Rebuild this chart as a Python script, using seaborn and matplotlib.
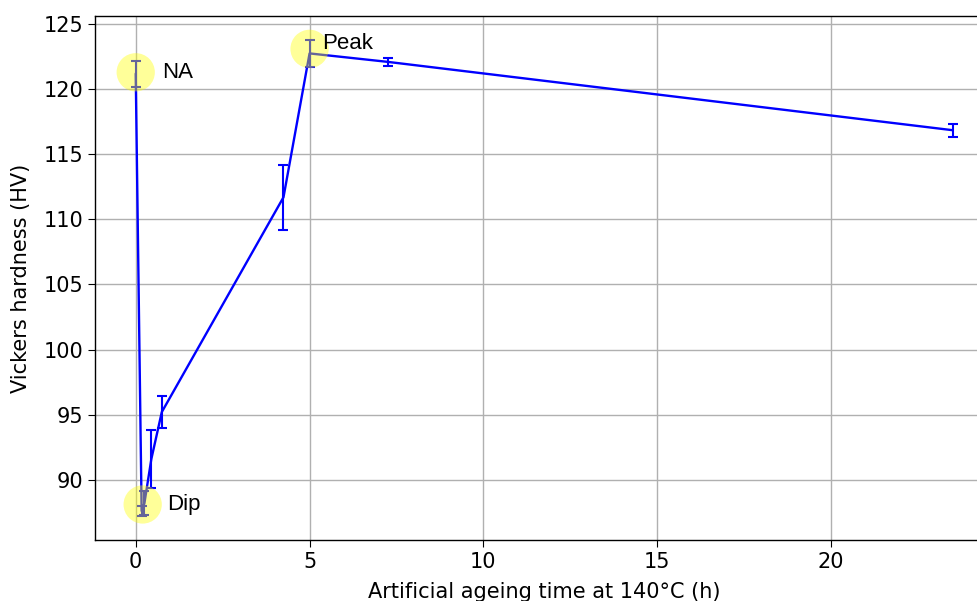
import matplotlib
matplotlib.use("Agg")
import matplotlib.pyplot as plt
import seaborn as sns
import numpy as np
import pandas as pd

# ageing time (h), hardness (HV), std dev
time_h = [0.0, 0.17, 0.25, 0.45, 0.75, 4.25, 5.0, 7.25, 23.5]
hardness = [121.2, 87.6, 88.2, 91.6, 95.2, 111.7, 122.75, 122.1, 116.85]
hv_err = [1.0, 0.4, 0.9, 2.25, 1.25, 2.5, 1.05, 0.3, 0.5]

# highlighted states
mark_names = ["NA", "Dip", "Peak"]
mark_time = [0.0, 0.2, 5.0]
mark_hv = [121.3, 88.1, 123.1]

df = pd.DataFrame({"time": time_h, "hv": hardness, "err": hv_err})
marks = pd.DataFrame({"name": mark_names, "time": mark_time, "hv": mark_hv})

sns.set_style("ticks")
plt.rcParams["font.family"] = ["DejaVu Sans"]
plt.rcParams["text.color"] = "black"
plt.rcParams["axes.labelcolor"] = "black"

fig = plt.figure(figsize=(9.78, 6.01), dpi=100)
ax = fig.add_axes([0.097, 0.1015, 0.919, 0.872])

sns.lineplot(data=df, x="time", y="hv", color="blue", linewidth=1.7, ax=ax,
             sort=False, zorder=2)
ax.errorbar(df["time"], df["hv"], yerr=df["err"], fmt="none", ecolor="blue",
            elinewidth=1.5, capsize=3.5, capthick=1.5, zorder=3)
sns.scatterplot(data=marks, x="time", y="hv", s=760, color="yellow", alpha=0.4,
                edgecolor="none", ax=ax, zorder=4)

# label offsets (data units) relative to the highlighted points
offsets = {"NA": (0.75, 0.0), "Dip": (0.7, 0.0), "Peak": (0.35, 0.4)}
for name, t, h in zip(mark_names, mark_time, mark_hv):
    dx, dy = offsets[name]
    ax.text(t + dx, h + dy, name, fontsize=16, family="Liberation Sans",
            color="black", va="center", ha="left", zorder=5)

ax.grid(True, color="#b0b0b0", linewidth=1)
ax.set_axisbelow(True)
for s in ax.spines.values():
    s.set_color("black")
    s.set_linewidth(1)
ax.tick_params(labelsize=15, length=5, color="black", labelcolor="black")
ax.set_xticks([0, 5, 10, 15, 20])
ax.set_yticks([90, 95, 100, 105, 110, 115, 120, 125])
ax.set_xlabel("Artificial ageing time at 140°C (h)", fontsize=15, labelpad=7)
ax.set_ylabel("Vickers hardness (HV)", fontsize=15, labelpad=9)

fig.savefig("out.png", dpi=100)
